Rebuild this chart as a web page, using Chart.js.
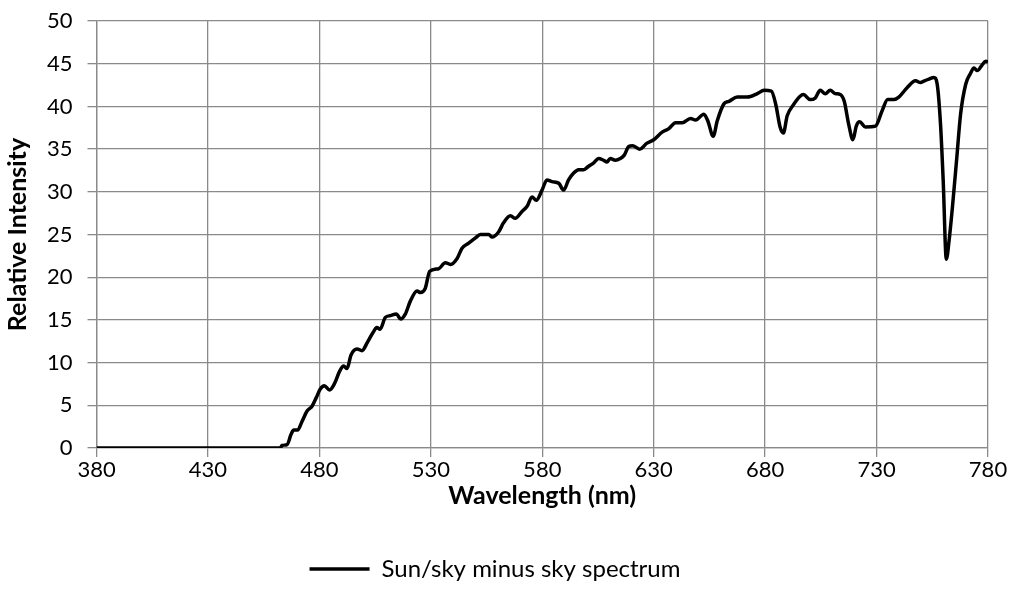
<!DOCTYPE html>
<html>
<head>
<meta charset="utf-8">
<title>Sun/sky minus sky spectrum</title>
<script src="https://cdn.jsdelivr.net/npm/chart.js@4/dist/chart.umd.min.js"></script>
<style>
  html, body { margin: 0; padding: 0; background: #fff; }
  #wrap { width: 1014px; height: 610px; position: relative; }
</style>
</head>
<body>
<div id="wrap"><canvas id="spec"></canvas></div>
<script>
// Spectrum (wavelength in nm, relative intensity).
var WAVELENGTH = [
  380, 400, 420, 440, 460, 462.5, 463.2, 465.5, 467.3, 468.5, 470.2, 472.2, 474.4, 476.7, 478.6,
  480.4, 482.2, 484.6, 486.7, 489.1, 490.9, 492.4, 494.2, 496.9, 499.1, 501.6, 504, 505.8, 507.2,
  509.6, 511.8, 514.5, 516.5, 518.6, 520.8, 523.8, 525.3, 527.5, 529.5, 533.5, 536.5, 538.8, 541.8,
  544, 547, 550, 552.2, 556, 557.5, 560.4, 562.7, 565.7, 567.9, 570.9, 573.2, 575.4, 577.3, 579.9,
  582.1, 584.4, 587.4, 589.6, 591.8, 594.1, 596.3, 598.6, 600.8, 603.1, 605.3, 607.5, 609, 610.5,
  612.8, 615, 616.8, 618.8, 620.5, 623.7, 627, 630, 633.8, 636.8, 639.8, 642.8, 646.5, 648.8, 652.5,
  654.3, 656.7, 658.5, 661.5, 663.8, 667.5, 672, 676.5, 679.5, 682.8, 684.8, 686.7, 688.2, 689.9,
  692.7, 695.7, 697.2, 700.2, 702.5, 704.7, 707, 709.2, 711.5, 713.7, 715.5, 717.5, 719.4, 720.9,
  722.4, 725, 729.5, 732.5, 735, 737.7, 740, 743.7, 747.5, 749.7, 751.5, 753.5, 755.7, 757.2, 758.7,
  759.9, 761.3, 762.5, 764, 766, 767.7, 770, 772, 773.7, 775.2, 777.2, 779, 780
];
var INTENSITY = [
  0, 0, 0, 0, 0, 0, 0.3, 0.4, 1.6, 2.1, 2.1, 3.1, 4.3, 4.9, 5.9,
  6.9, 7.3, 6.8, 7.5, 9.0, 9.6, 9.3, 10.9, 11.6, 11.4, 12.4, 13.5, 14.1, 13.9,
  15.3, 15.5, 15.7, 15.1, 15.7, 17.2, 18.4, 18.2, 18.7, 20.7, 21.0, 21.7, 21.5, 22.2,
  23.4, 24.0, 24.6, 25.0, 25.0, 24.7, 25.3, 26.4, 27.2, 26.9, 27.7, 28.3, 29.4, 29.0, 30.2,
  31.4, 31.2, 31.0, 30.2, 31.4, 32.2, 32.6, 32.6, 33.0, 33.4, 33.9, 33.7, 33.5, 33.9,
  33.7, 33.9, 34.3, 35.3, 35.4, 35.0, 35.7, 36.1, 37.0, 37.4, 38.1, 38.1, 38.6, 38.4, 39.1,
  38.3, 36.5, 38.3, 40.3, 40.6, 41.1, 41.1, 41.5, 41.9, 41.8, 40.2, 37.6, 36.9, 38.9,
  40.2, 41.2, 41.4, 40.8, 41.0, 41.9, 41.5, 41.9, 41.5, 41.4, 40.6, 37.9, 36.1, 37.7,
  38.2, 37.6, 37.7, 39.5, 40.8, 40.8, 41.1, 42.2, 43.0, 42.8, 43.0, 43.2, 43.4, 42.6, 37.9,
  31.3, 22.1, 24.2, 28.1, 34.0, 39.1, 42.6, 43.8, 44.5, 44.2, 44.8, 45.3, 45.2
];
var SERIES_LABEL = "Sun/sky minus sky spectrum";
var X_TITLE = "Wavelength (nm)";
var Y_TITLE = "Relative Intensity";

(function () {
  "use strict";

  var FONT = "Lato, 'Open Sans', sans-serif";
  var GRID = "#8a8a8a";
  var TEXT = "#000";

  var points = WAVELENGTH.map(function (x, i) { return { x: x, y: INTENSITY[i] }; });

  var tickFont = { family: FONT, size: 22, lineHeight: 1 };
  // small lineHeight on the y ticks only trims the overflow Chart.js reserves above "50"
  var yTickFont = { family: FONT, size: 22, lineHeight: 0.55 };
  var titleFont = { family: FONT, size: 25, weight: "bold", lineHeight: 1 };

  var ctx = document.getElementById("spec").getContext("2d");
  new Chart(ctx, {
    type: "line",
    data: {
      datasets: [{
        label: SERIES_LABEL,
        data: points,
        borderColor: "#000",
        backgroundColor: "#000",
        borderWidth: 3.5,
        pointRadius: 0,
        cubicInterpolationMode: "monotone",
        fill: false
      }]
    },
    options: {
      responsive: true,
      maintainAspectRatio: false,
      animation: false,
      layout: { padding: { top: 4, right: 26, bottom: 19, left: 2 } },
      plugins: {
        tooltip: { enabled: false },
        legend: {
          position: "bottom",
          labels: {
            color: TEXT,
            font: { family: FONT, size: 24 },
            usePointStyle: true,
            pointStyle: "line",
            pointStyleWidth: 60,
            padding: 10
          }
        }
      },
      scales: {
        x: {
          type: "linear",
          min: 380,
          max: 780,
          ticks: { stepSize: 50, color: TEXT, font: tickFont, padding: 2, maxRotation: 0 },
          grid: { color: GRID, lineWidth: 1.3, tickLength: 9 },
          border: { color: GRID, width: 1.3 },
          title: { display: true, text: X_TITLE, color: TEXT, font: titleFont, padding: { top: 0, bottom: 39 } }
        },
        y: {
          min: 0,
          max: 50,
          ticks: { stepSize: 5, color: TEXT, font: yTickFont, padding: 15 },
          grid: { color: GRID, lineWidth: 1.3, tickLength: 9 },
          border: { color: GRID, width: 1.3 },
          title: { display: true, text: Y_TITLE, color: TEXT, font: titleFont, padding: { top: 3, bottom: 2 } }
        }
      }
    }
  });
})();
</script>
</body>
</html>
